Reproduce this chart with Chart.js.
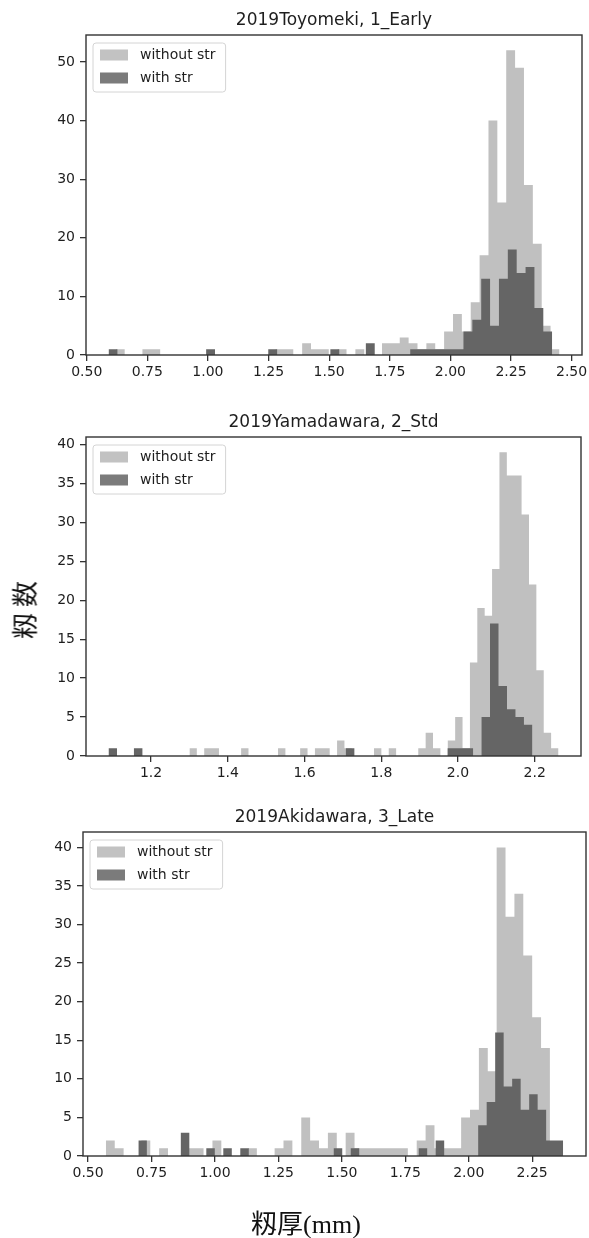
<!DOCTYPE html>
<html>
<head>
<meta charset="utf-8">
<script src="https://cdn.jsdelivr.net/npm/chart.js@4.4.1/dist/chart.umd.min.js"></script>
<style>
  body { margin: 0; background: #fff; }
  #wrap { position: relative; width: 589px; height: 1238px; overflow: hidden; }
  #wrap canvas { position: absolute; left: 0; }
  .lbl { position: absolute; font-family: "Liberation Serif", "Noto Sans CJK JP", serif; font-size: 26px; color: #111; white-space: nowrap; }
  #ylabel { left: 23px; top: 607px; transform: translate(-50%, -50%) rotate(-90deg); letter-spacing: 6px; }
  #xlabel { left: 306px; top: 1221px; transform: translate(-50%, -50%); }
</style>
</head>
<body>
<div id="wrap">
  <canvas id="early"></canvas>
  <canvas id="std"></canvas>
  <canvas id="late"></canvas>
  <div class="lbl" id="ylabel">籾数</div>
  <div class="lbl" id="xlabel">籾厚(mm)</div>
</div>
<script>
const seriesLabels = ['without str', 'with str'];

// 2019Toyomeki, 1_Early  (50 bins each, range = [first edge, last edge])
const earlyWithoutRange = [0.620, 2.450];
const earlyWithout = [1,0,0,1,1,0,0,0,0,0, 0,0,0,0,0,0,0,0,1,1, 0,2,1,1,0,1,0,1,0,0,
                      2,2,3,2,1,2,1,4,7,4, 9,17,40,26,52,49,29,19,5,1];
const earlyWithRange = [0.590, 2.420];
const earlyWith = [1,0,0,0,0,0,0,0,0,0, 0,1,0,0,0,0,0,0,1,0, 0,0,0,0,0,1,0,0,0,2,
                   0,0,0,0,1,1,1,1,1,1, 4,6,13,5,13,18,14,15,8,4];
const earlyXTicks = [0.50, 0.75, 1.00, 1.25, 1.50, 1.75, 2.00, 2.25, 2.50];
const earlyYTicks = [0, 10, 20, 30, 40, 50];

// 2019Yamadawara, 2_Std
const stdWithoutRange = [1.300, 2.262];
const stdWithout = [1,0,1,1,0,0,0,1,0,0, 0,0,1,0,0,1,0,1,1,0, 2,1,0,0,0,1,0,1,0,0,
                    0,1,3,1,0,2,5,1,12,19, 18,24,39,36,36,31,22,11,3,1];
const stdWithRange = [1.089, 2.194];
const stdWith = [1,0,0,1,0,0,0,0,0,0, 0,0,0,0,0,0,0,0,0,0, 0,0,0,0,0,0,0,0,1,0,
                 0,0,0,0,0,0,0,0,0,0, 1,1,1,0,5,17,9,6,5,4];
const stdXTicks = [1.2, 1.4, 1.6, 1.8, 2.0, 2.2];
const stdYTicks = [0, 5, 10, 15, 20, 25, 30, 35, 40];

// 2019Akidawara, 3_Late
const lateWithoutRange = [0.570, 2.320];
const lateWithout = [2,1,0,0,2,0,1,0,0,1, 1,0,2,0,0,0,1,0,0,1, 2,0,5,2,1,3,0,3,1,1,
                     1,1,1,1,0,2,4,1,1,1, 5,6,14,11,40,31,34,26,18,14];
const lateWithRange = [0.698, 2.372];
const lateWith = [2,0,0,0,0,3,0,0,1,0, 1,0,1,0,0,0,0,0,0,0, 0,0,0,1,0,1,0,0,0,0,
                  0,0,0,1,0,2,0,0,0,0, 4,7,16,9,10,6,8,6,2,2];
const lateXTicks = [0.50, 0.75, 1.00, 1.25, 1.50, 1.75, 2.00, 2.25];
const lateYTicks = [0, 5, 10, 15, 20, 25, 30, 35, 40];

const LIGHT = '#c0c0c0';
const DARK = '#656565';
const INK = '#1e1e1e';

// bin counts -> step outline points (left edge of each bin, closed at the last edge)
function histPoints(range, counts) {
    const w = (range[1] - range[0]) / counts.length;
    const pts = counts.map((c, i) => ({ x: range[0] + i * w, y: c }));
    pts.push({ x: range[1], y: 0 });
    return pts;
}

const frame = {
    id: 'frame',
    afterDatasetsDraw(chart) {
        const { ctx, chartArea: a } = chart;
        ctx.save();
        ctx.strokeStyle = '#333';
        ctx.lineWidth = 1.4;
        ctx.strokeRect(a.left, a.top, a.right - a.left, a.bottom - a.top);
        ctx.restore();
    }
};

// matplotlib style legend inside the upper left corner
const innerLegend = {
    id: 'innerLegend',
    afterDraw(chart) {
        const { ctx, chartArea: a } = chart;
        const sets = chart.data.datasets;
        ctx.save();
        ctx.font = '14px "DejaVu Sans"';
        const textW = Math.max(...sets.map(d => ctx.measureText(d.label).width));
        const x = a.left + 7, y = a.top + 8;
        const w = 47 + textW + 10, h = 49;
        ctx.beginPath();
        ctx.roundRect(x, y, w, h, 3);
        ctx.fillStyle = 'rgba(255,255,255,0.85)';
        ctx.fill();
        ctx.strokeStyle = '#d4d4d4';
        ctx.lineWidth = 1;
        ctx.stroke();
        sets.forEach((d, i) => {
            const cy = y + 12 + i * 23;
            ctx.fillStyle = d.legendColor;
            ctx.fillRect(x + 7, cy - 5.5, 28, 11);
            ctx.fillStyle = INK;
            ctx.textBaseline = 'middle';
            ctx.fillText(d.label, x + 47, cy);
        });
        ctx.restore();
    }
};

function makeHist(id, p) {
    const canvas = document.getElementById(id);
    canvas.width = 589;
    canvas.height = p.height;
    canvas.style.top = p.top + 'px';

    // axis limits like matplotlib: data span plus 5% on both sides
    const lo = Math.min(p.withoutRange[0], p.withRange[0]);
    const hi = Math.max(p.withoutRange[1], p.withRange[1]);
    const pad = (hi - lo) * 0.05;
    const yTop = Math.max(...p.without, ...p.with) * 1.05;

    new Chart(canvas, {
        type: 'line',
        data: {
            datasets: [
                {
                    label: seriesLabels[0],
                    data: histPoints(p.withoutRange, p.without),
                    backgroundColor: LIGHT,
                    legendColor: '#c2c2c2',
                    borderWidth: 0,
                    fill: 'origin',
                    stepped: 'before',
                    pointRadius: 0,
                    order: 2
                },
                {
                    label: seriesLabels[1],
                    data: histPoints(p.withRange, p.with),
                    backgroundColor: DARK,
                    legendColor: '#7b7b7b',
                    borderWidth: 0,
                    fill: 'origin',
                    stepped: 'before',
                    pointRadius: 0,
                    order: 1
                }
            ]
        },
        options: {
            responsive: false,
            animation: false,
            layout: { padding: { left: 0, right: 589 - p.right, top: 0, bottom: 0 } },
            plugins: {
                legend: { display: false },
                tooltip: { enabled: false },
                title: {
                    display: true,
                    text: p.title,
                    fullSize: false,
                    color: INK,
                    font: { family: 'DejaVu Sans', size: 17, weight: 'normal' },
                    padding: { top: 10.5, bottom: 4.1 }
                }
            },
            scales: {
                x: {
                    type: 'linear',
                    min: lo - pad,
                    max: hi + pad,
                    afterBuildTicks: s => { s.ticks = p.xTicks.map(v => ({ value: v })); },
                    ticks: {
                        color: INK,
                        font: { family: 'DejaVu Sans', size: 14 },
                        padding: 3,
                        maxRotation: 0,
                        autoSkip: false,
                        callback: v => v.toFixed(p.digits)
                    },
                    grid: { drawOnChartArea: false, tickLength: 6, tickColor: '#333', lineWidth: 1.3 },
                    border: { display: false },
                    afterFit: s => { s.height = p.height - p.plotBottom; s.paddingLeft = 0; s.paddingRight = 0; }
                },
                y: {
                    min: 0,
                    max: yTop,
                    afterBuildTicks: s => { s.ticks = p.yTicks.map(v => ({ value: v })); },
                    ticks: {
                        color: INK,
                        font: { family: 'DejaVu Sans', size: 14 },
                        padding: 5
                    },
                    grid: { drawOnChartArea: false, tickLength: 6, tickColor: '#333', lineWidth: 1.3 },
                    border: { display: false },
                    afterFit: s => { s.width = p.left; s.paddingTop = 0; s.paddingBottom = 0; }
                }
            }
        },
        plugins: [frame, innerLegend]
    });
}

makeHist('early', {
    title: '2019Toyomeki, 1_Early',
    withoutRange: earlyWithoutRange, without: earlyWithout,
    withRange: earlyWithRange, with: earlyWith,
    xTicks: earlyXTicks, yTicks: earlyYTicks, digits: 2,
    top: 0, height: 400, left: 86, right: 582, plotBottom: 355
});

makeHist('std', {
    title: '2019Yamadawara, 2_Std',
    withoutRange: stdWithoutRange, without: stdWithout,
    withRange: stdWithRange, with: stdWith,
    xTicks: stdXTicks, yTicks: stdYTicks, digits: 1,
    top: 402, height: 400, left: 86, right: 581, plotBottom: 354
});

makeHist('late', {
    title: '2019Akidawara, 3_Late',
    withoutRange: lateWithoutRange, without: lateWithout,
    withRange: lateWithRange, with: lateWith,
    xTicks: lateXTicks, yTicks: lateYTicks, digits: 2,
    top: 797, height: 441, left: 83, right: 586, plotBottom: 359
});
</script>
</body>
</html>
